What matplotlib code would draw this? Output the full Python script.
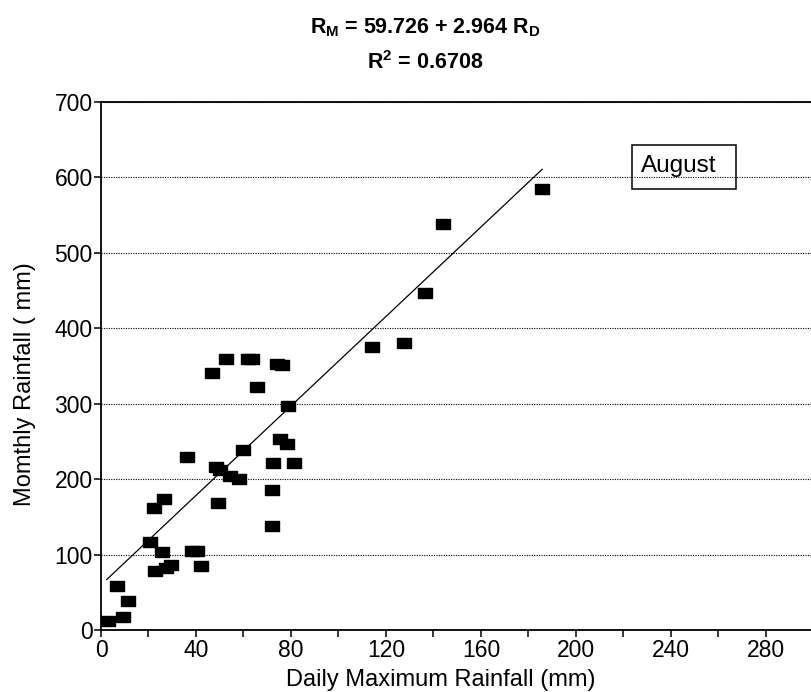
import matplotlib
matplotlib.use("Agg")
import matplotlib.pyplot as plt
from matplotlib.patches import Rectangle
from matplotlib.ticker import MultipleLocator

plt.rcParams['font.family'] = ['Liberation Sans', 'DejaVu Sans']
plt.rcParams['mathtext.fontset'] = 'custom'
plt.rcParams['mathtext.rm'] = 'Liberation Sans'
plt.rcParams['mathtext.bf'] = 'Liberation Sans:bold'

# August: daily maximum vs monthly rainfall (mm)
daily_max = [2.8, 6.6, 11.5, 9.4, 20.6, 22.4, 26.5, 25.6, 22.7, 27.5, 29.5,
             36.3, 38.5, 40.5, 42.1, 46.9, 52.6, 48.4, 50.1, 49.4, 54.3,
             58.1, 59.7, 62.0, 63.5, 65.8, 74.0, 76.1, 78.9, 75.4, 78.2,
             72.5, 81.4, 71.9, 71.9,
             114.2, 127.5, 136.4, 144.1, 185.6]
monthly = [11.9, 58.7, 38.4, 16.8, 116, 161, 173, 103, 78, 82, 86,
           229, 104.6, 104.6, 85, 341, 358.5, 216, 212, 168, 204,
           199.5, 239, 358.5, 358.5, 322, 353, 351, 297, 252.5, 246,
           221.6, 220.7, 185, 137.7,
           374.4, 379.7, 446.8, 537.7, 584]

intercept = 59.726
slope = 2.964
fit_x = [2.4, 185.8]

fig = plt.figure(figsize=(8.11, 6.92), dpi=100)
ax = fig.add_axes([101 / 811, 62 / 692, 1 - 101 / 811, (630 - 101.7) / 692])

rect = [(-1.35, -1), (1.35, -1), (1.35, 1), (-1.35, 1), (-1.35, -1)]
ax.plot(daily_max, monthly, linestyle='none', marker=rect, markersize=9.6,
        color='black', zorder=3)
ax.plot(fit_x, [intercept + slope * v for v in fit_x], color='black', lw=0.9,
        zorder=2)

ax.set_xlim(0, 299)
ax.set_ylim(0, 700)
ax.xaxis.set_major_locator(MultipleLocator(40))
ax.xaxis.set_minor_locator(MultipleLocator(20))
ax.yaxis.set_major_locator(MultipleLocator(100))
ax.tick_params(axis='both', which='both', direction='out', labelsize=16.5,
               width=1.1, color='black', length=5)
ax.tick_params(axis='y', pad=1)
ax.tick_params(axis='x', pad=1.5)
ax.grid(axis='y', linestyle=(0, (1, 1.2)), color='black', lw=0.8)
ax.spines['right'].set_visible(False)
for s in ['left', 'bottom', 'top']:
    ax.spines[s].set_linewidth(1.3)

ax.set_xlabel('Daily Maximum Rainfall (mm)', fontsize=17)
ax.xaxis.set_label_coords(0.479, -0.073)
ax.set_ylabel('Momthly Rainfall ( mm)', fontsize=17)
ax.yaxis.set_label_coords(-0.092, 0.466)

# legend-like box with month name
ax.add_patch(Rectangle((223.5, 584), 43.8, 58, fill=False, ec='black',
                       lw=1.1, zorder=4))
ax.text(227.3, 607, 'August', fontsize=17.5, va='baseline', ha='left',
        zorder=5)

fig.text(425 / 811, 1 - 28 / 692, r'$\mathbf{R_M}$' + ' = 59.726 + 2.964 ' + r'$\mathbf{R_D}$',
         ha='center', va='center', fontsize=15.5, fontweight='bold')
fig.text(425 / 811, 1 - 63 / 692, r'$\mathbf{R^2}$' + ' = 0.6708',
         ha='center', va='center', fontsize=15.5, fontweight='bold')

fig.savefig('out.png', dpi=100)
